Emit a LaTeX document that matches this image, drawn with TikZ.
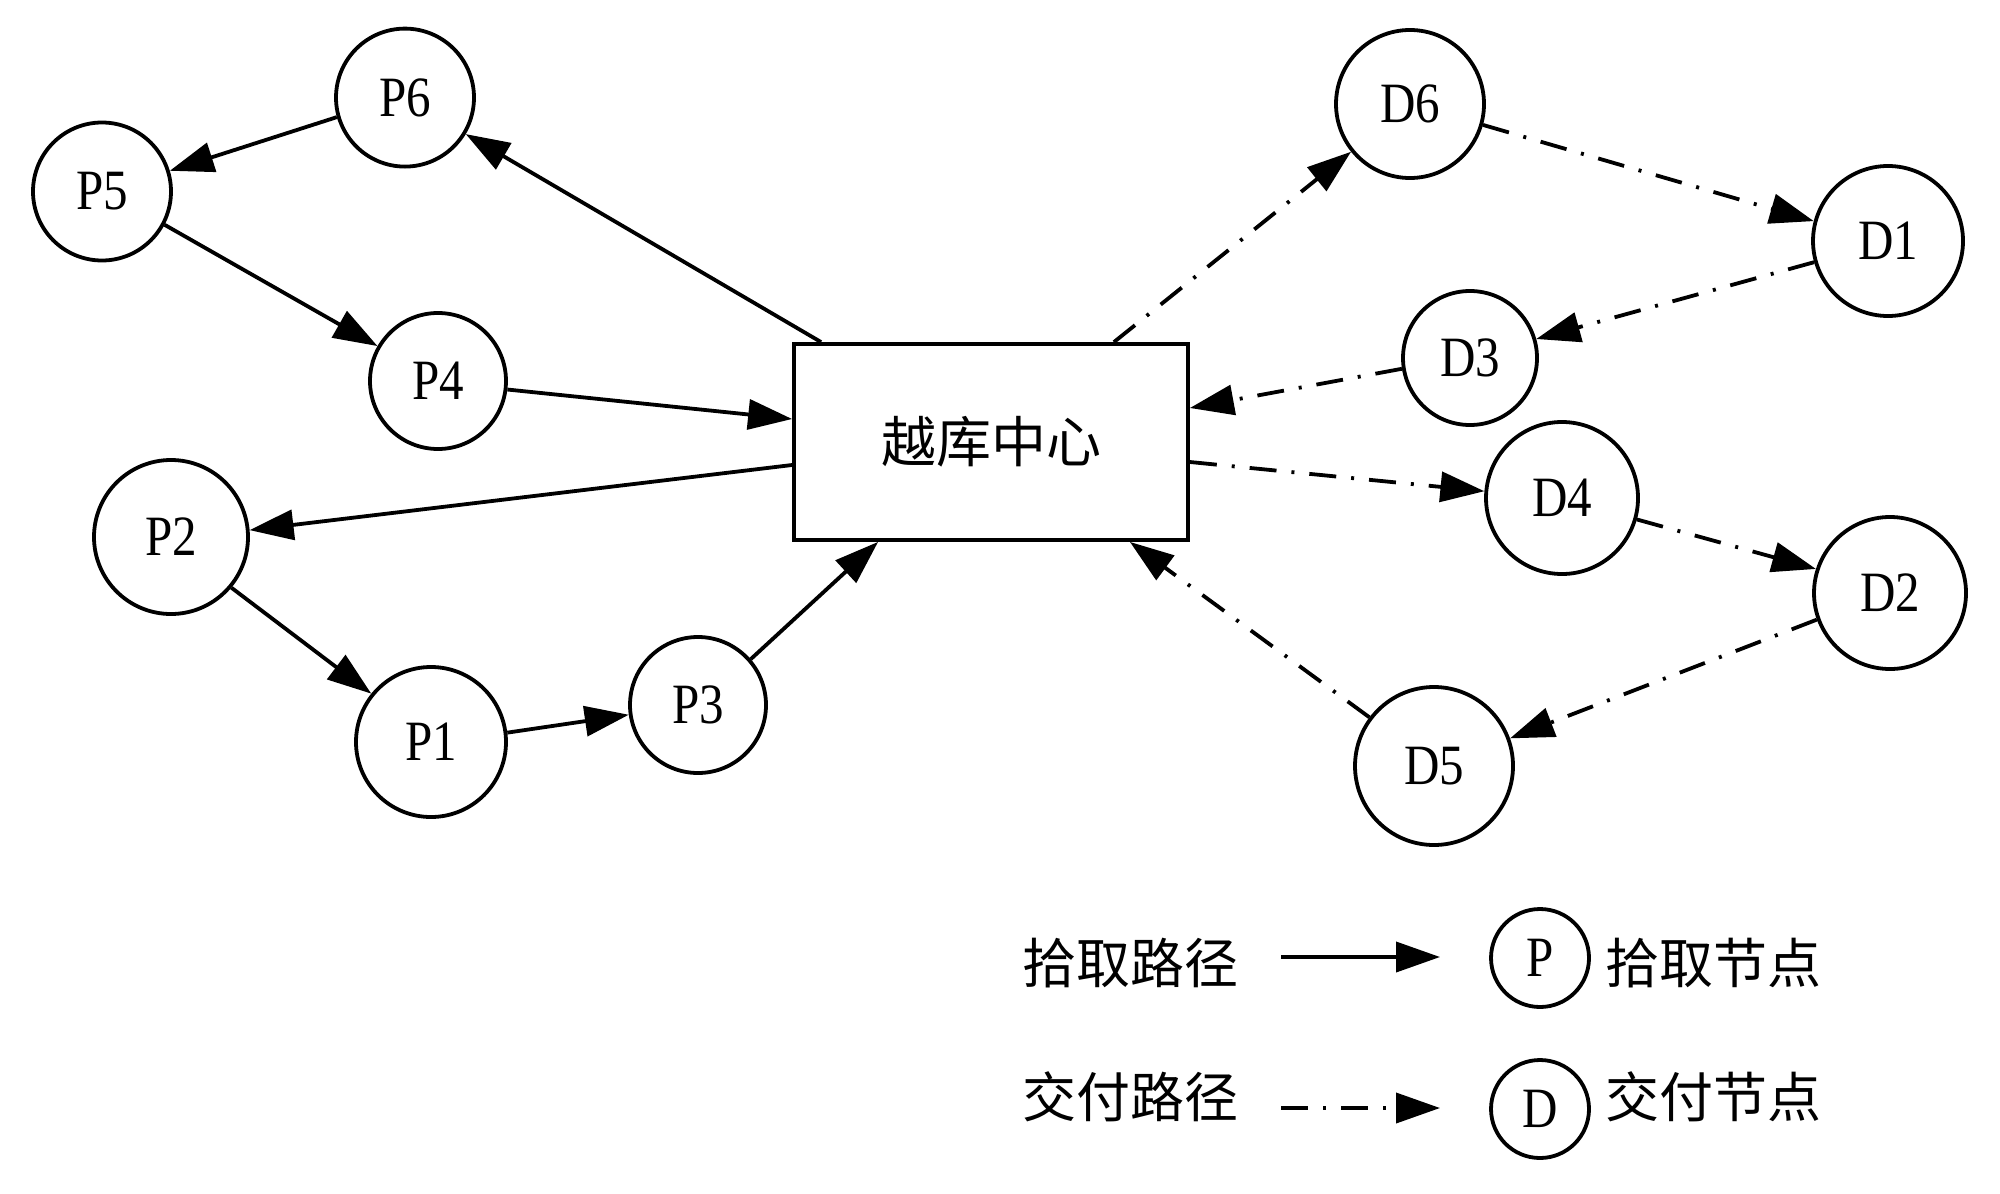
\documentclass[tikz,border=0pt]{standalone}
\usepackage{fontspec}
\setmainfont{Liberation Serif}[FakeStretch=0.86]
\newfontfamily\cjk{Noto Sans CJK SC}
\usetikzlibrary{arrows.meta,calc}
\begin{document}
\begin{tikzpicture}[x=0.5pt,y=-0.5pt,
  pn/.style={circle,draw,line width=1.9pt,inner sep=0pt,font=\fontsize{28.5}{30}\selectfont},
  boxn/.style={draw,line width=1.9pt,inner sep=0pt,minimum width=197pt,minimum height=98pt,font=\cjk\fontsize{27.5}{30}\selectfont},
  lab/.style={inner sep=0pt,font=\cjk\fontsize{27}{30}\selectfont},
  pick/.style={line width=1.9pt,-{Triangle[length=22pt,width=15pt]}},
  deliv/.style={pick,dash pattern=on 13.5pt off 7.5pt on 1.5pt off 7.5pt}]
\path[use as bounding box,fill=white] (0,0) rectangle (2000,1193);
% nodes
\node[pn,minimum size=69pt] (P6) at (405,97.6) {P6};
\node[pn,minimum size=69pt] (P5) at (102,191.5) {P5};
\node[pn,minimum size=68pt] (P4) at (438,381) {P4};
\node[pn,minimum size=77pt] (P2) at (171,537) {P2};
\node[pn,minimum size=75pt] (P1) at (431,742) {P1};
\node[pn,minimum size=68pt] (P3) at (698,705) {P3};
\node[pn,minimum size=74pt] (D6) at (1410,104) {D6};
\node[pn,minimum size=75pt] (D1) at (1888,241) {D1};
\node[pn,minimum size=67pt] (D3) at (1470,358) {D3};
\node[pn,minimum size=76pt] (D4) at (1562,498) {D4};
\node[pn,minimum size=76pt] (D2) at (1890,593) {D2};
\node[pn,minimum size=79pt] (D5) at (1434,766) {D5};
\node[boxn] (box) at (991,442) {越库中心};
% pick-up route
\draw[pick] ([xshift=14.5pt]box.north west) -- (P6.-31);
\draw[pick] (P6.196.7) -- (P5.17.3);
\draw[pick] (P5.-28.8) -- (P4.150.6);
\draw[pick] (P4.-7.1) -- ([yshift=11.5pt]box.west);
\draw[pick] ([yshift=-11.5pt]box.west) -- (P2.5);
\draw[pick] (P2.-40) -- (P1.141.2);
\draw[pick] (P1.7.9) -- (P3.188.1);
\draw[pick] (P3.41.8) -- ([xshift=43pt]box.south west);
% delivery route
\draw[deliv] ([xshift=-38pt]box.north east) -- (D6.219.5);
\draw[deliv] (D6.-16.6) -- (D1.165);
\draw[deliv] (D1.196) -- (D3.16);
\draw[deliv] (D3.189.4) -- ([yshift=17pt]box.east);
\draw[deliv] ([yshift=-10pt]box.east) -- (D4.175.4);
\draw[deliv] (D4.-16.5) -- (D2.162.7);
\draw[deliv] (D2.200.9) -- (D5.20.7);
\draw[deliv] (D5.143.7) -- ([xshift=-30pt]box.south east);
% legend
\node[lab] (t1) at (1130.5,963) {拾取路径};
\coordinate (a1s) at (1281,957);
\coordinate (a1e) at (1440,957);
\draw[pick] (a1s) -- (a1e);
\node[pn,minimum size=49pt] (LP) at (1540,958) {P};
\node[lab] (t2) at (1713.5,963) {拾取节点};
\node[lab] (t3) at (1130.5,1097) {交付路径};
\coordinate (a2s) at (1281,1108);
\coordinate (a2e) at (1440,1108);
\draw[deliv] (a2s) -- (a2e);
\node[pn,minimum size=49pt] (LD) at (1540,1109) {D};
\node[lab] (t4) at (1713.5,1097) {交付节点};
\end{tikzpicture}
\end{document}
